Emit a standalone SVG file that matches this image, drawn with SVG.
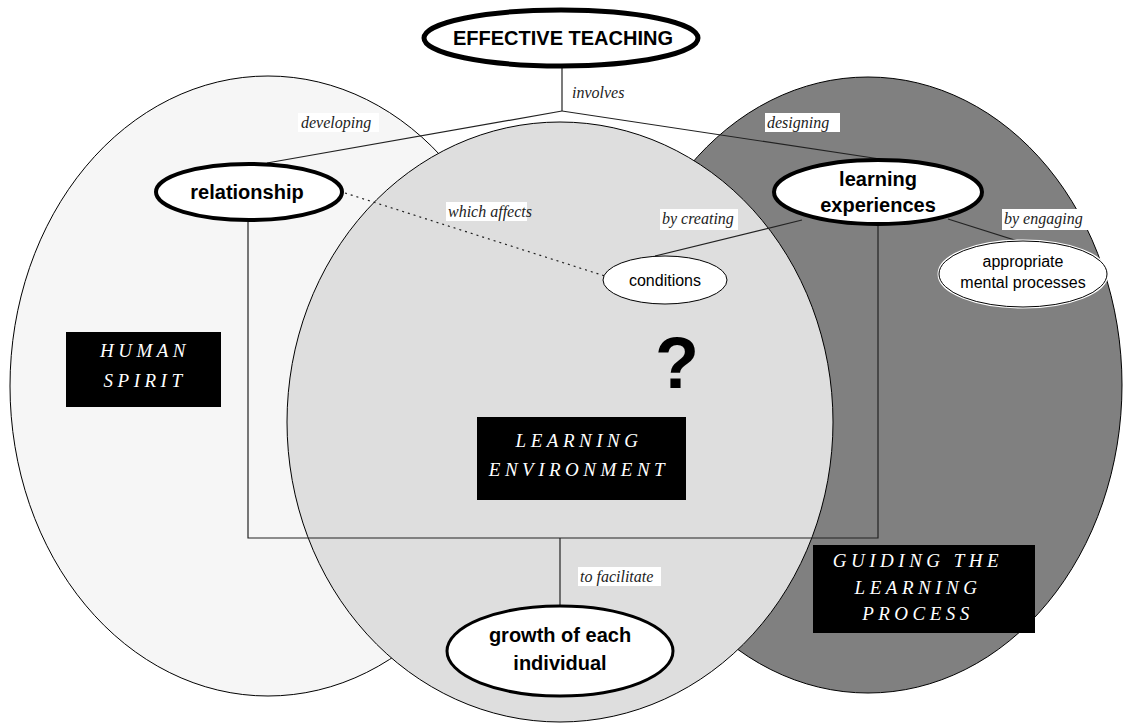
<svg xmlns="http://www.w3.org/2000/svg" width="1133" height="726" viewBox="0 0 1133 726">
<style>
.area{stroke:#000;stroke-width:1}
.conn{fill:none;stroke:#222;stroke-width:1.2}
.lbl{fill:#fff}
.it{font-family:"Liberation Serif",serif;font-style:italic;font-size:16px;fill:#222}
.nb{font-family:"Liberation Sans",Arial,sans-serif;font-weight:bold;font-size:20px;fill:#000;text-anchor:middle}
.nr{font-family:"Liberation Sans",Arial,sans-serif;font-size:16px;fill:#000;text-anchor:middle}
.box{fill:#000}
.bt{font-family:"Liberation Serif",serif;font-style:italic;font-size:19px;fill:#fff;letter-spacing:4.5px;text-anchor:middle}
</style>
<rect width="1133" height="726" fill="#fff"/>
<g id="areas">
<ellipse id="human-spirit-area" class="area" cx="268" cy="386" rx="258" ry="310" fill="#f6f6f6"/>
<ellipse id="guiding-area" class="area" cx="868" cy="385" rx="254" ry="308" fill="#808080"/>
<ellipse id="environment-area" class="area" cx="560" cy="422" rx="273" ry="300" fill="#dedede"/>
</g>
<g id="connectors">
<line class="conn" x1="562" y1="68" x2="562" y2="111"/>
<line class="conn" x1="562" y1="111" x2="267" y2="163"/>
<line class="conn" x1="562" y1="111" x2="880" y2="159"/>
<polyline class="conn" points="248,222 248,538 878,538 878,226"/>
<line class="conn" x1="560" y1="538" x2="560" y2="607"/>
<line class="conn" x1="345" y1="193" x2="608" y2="277" stroke-dasharray="2,4"/>
<line class="conn" x1="802" y1="220" x2="655" y2="256"/>
<line class="conn" x1="948" y1="219" x2="1021" y2="242"/>
</g>
<g id="labels">
<rect class="lbl" x="570" y="83" width="70" height="19"/><text class="it" x="572" y="98">involves</text>
<rect class="lbl" x="298" y="113" width="81" height="19"/><text class="it" x="301" y="128">developing</text>
<rect class="lbl" x="765" y="113" width="75" height="19"/><text class="it" x="767" y="128">designing</text>
<rect class="lbl" x="446" y="202" width="81" height="19"/><text class="it" x="448" y="217">which affects</text>
<rect class="lbl" x="660" y="209" width="78" height="21"/><text class="it" x="662" y="224">by creating</text>
<rect class="lbl" x="1002" y="209" width="86" height="21"/><text class="it" x="1004" y="224">by engaging</text>
<rect class="lbl" x="578" y="567" width="83" height="19"/><text class="it" x="580" y="582">to facilitate</text>
</g>
<g id="effective-teaching">
<ellipse cx="561" cy="38" rx="137" ry="28" fill="#fff" stroke="#000" stroke-width="5"/>
<text class="nb" x="563" y="45">EFFECTIVE TEACHING</text>
</g>
<g id="relationship">
<ellipse cx="249" cy="192" rx="93" ry="28" fill="#fff" stroke="#000" stroke-width="4"/>
<text class="nb" x="247" y="199">relationship</text>
</g>
<g id="learning-experiences">
<ellipse cx="878" cy="192" rx="104" ry="32" fill="#fff" stroke="#000" stroke-width="4"/>
<text class="nb" x="878" y="186">learning</text>
<text class="nb" x="878" y="212">experiences</text>
</g>
<g id="conditions">
<ellipse cx="665" cy="280" rx="62" ry="24" fill="#fff" stroke="#000" stroke-width="1"/>
<text class="nr" x="665" y="286">conditions</text>
</g>
<g id="mental-processes">
<ellipse cx="1023" cy="274" rx="84" ry="33" fill="#fff" stroke="#fff" stroke-width="3"/>
<ellipse cx="1023" cy="274" rx="84" ry="33" fill="none" stroke="#000" stroke-width="1"/>
<text class="nr" x="1023" y="267">appropriate</text>
<text class="nr" x="1023" y="288">mental processes</text>
</g>
<g id="growth">
<ellipse cx="560" cy="651" rx="113" ry="45" fill="#fff" stroke="#000" stroke-width="3"/>
<text class="nb" x="560" y="642">growth of each</text>
<text class="nb" x="560" y="670">individual</text>
</g>
<g id="question">
<text x="677" y="388" font-family="Liberation Sans,Arial,sans-serif" font-weight="bold" font-size="72" text-anchor="middle" fill="#000">?</text>
</g>
<g id="human-spirit">
<rect class="box" x="66" y="332" width="155" height="75"/>
<text class="bt" x="145" y="357">HUMAN</text>
<text class="bt" x="145" y="387">SPIRIT</text>
</g>
<g id="learning-environment">
<rect class="box" x="477" y="417" width="209" height="83"/>
<text class="bt" x="579" y="447">LEARNING</text>
<text class="bt" x="579" y="476">ENVIRONMENT</text>
</g>
<g id="guiding-the-learning-process">
<rect class="box" x="813" y="545" width="222" height="88"/>
<text class="bt" x="918" y="567">GUIDING THE</text>
<text class="bt" x="918" y="594">LEARNING</text>
<text class="bt" x="918" y="620">PROCESS</text>
</g>
</svg>
